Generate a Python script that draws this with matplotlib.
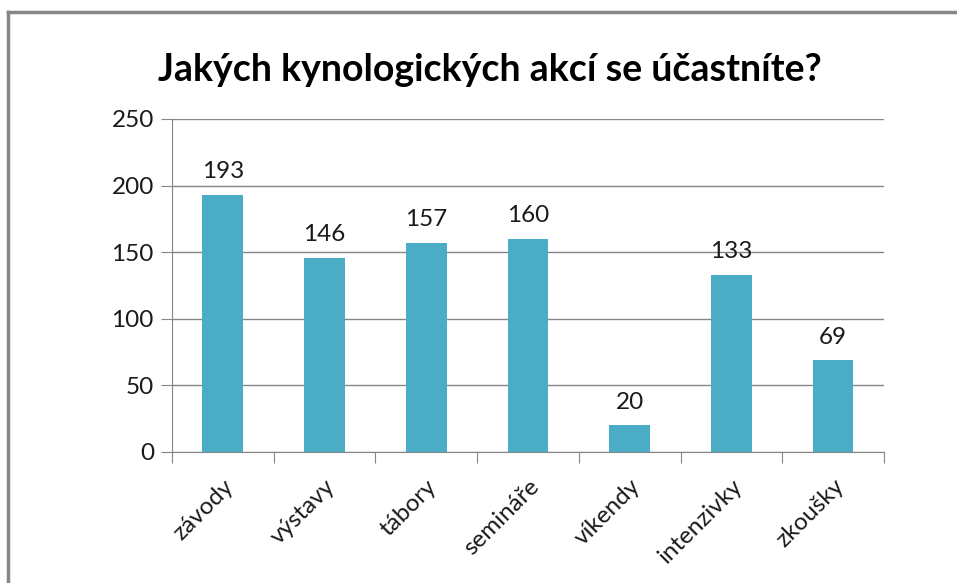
import numpy as np
import matplotlib.pyplot as plt
from matplotlib.lines import Line2D

categories = ['závody', 'výstavy', 'tábory', 'semináře', 'víkendy', 'intenzivky', 'zkoušky']
values = [193, 146, 157, 160, 20, 133, 69]
yticks = [0, 50, 100, 150, 200, 250]

plt.rcParams['font.family'] = ['Lato', 'DejaVu Sans']

fig = plt.figure(figsize=(9.57, 5.83), dpi=100)
ax = fig.add_axes([0.1797, 0.2247, 0.744, 0.5712])

grey = '#868686'
x = np.arange(len(categories))
bars = ax.bar(x, values, width=0.4, color='#4BACC6', zorder=3)
for b, v in zip(bars, values):
    ax.annotate(str(v), (b.get_x() + b.get_width() / 2, v), xytext=(0, 9),
                textcoords='offset points', ha='center', va='bottom',
                fontsize=17.5, color='#1a1a1a')

ax.set_xlim(-0.5, len(categories) - 0.5)
ax.set_ylim(0, 250)
ax.set_yticks(yticks)
ax.yaxis.grid(True, color=grey, linewidth=1, zorder=0)
ax.tick_params(axis='y', length=8, color=grey, labelsize=17.5, labelcolor='#1a1a1a', pad=5)

# category labels between boundary ticks
ax.set_xticks(np.arange(len(categories) + 1) - 0.5)
ax.set_xticklabels([])
ax.set_xticks(x, minor=True)
ax.set_xticklabels(categories, minor=True, rotation=45, ha='right',
                   rotation_mode='anchor', fontsize=17.5, color='#1a1a1a')
ax.tick_params(axis='x', which='major', length=8, color=grey)
ax.tick_params(axis='x', which='minor', length=0, pad=17)

for side in ['top', 'right']:
    ax.spines[side].set_visible(False)
for side in ['left', 'bottom']:
    ax.spines[side].set_color(grey)

fig.text(0.512, 0.88, 'Jakých kynologických akcí se účastníte?', ha='center',
         va='center', fontsize=27, fontweight='bold')

# outer chart frame
fig.add_artist(Line2D([8 / 957, 1], [1 - 12 / 583, 1 - 12 / 583], color=grey, lw=2.5,
                      transform=fig.transFigure))
fig.add_artist(Line2D([8 / 957, 8 / 957], [0, 1 - 12 / 583], color=grey, lw=2.5,
                      transform=fig.transFigure))

fig.savefig('out.png', dpi=100)
